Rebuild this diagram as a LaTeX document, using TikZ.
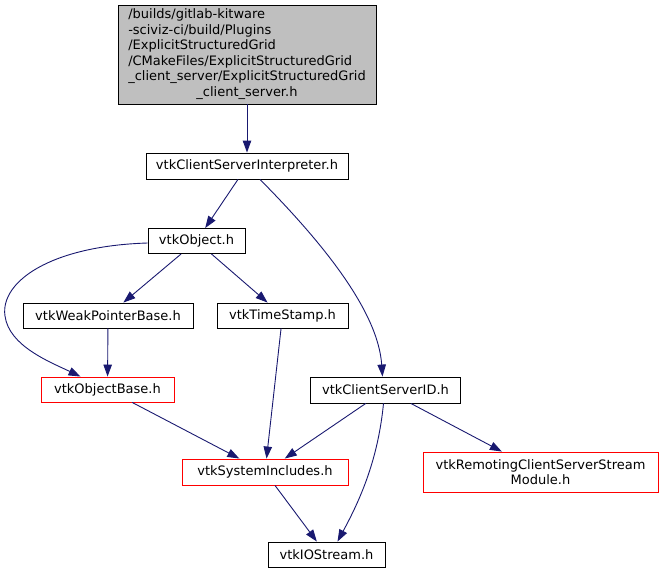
\documentclass[tikz,border=0pt]{standalone}
\usepackage{fontspec}
\setmainfont{DejaVu Sans}
\usetikzlibrary{arrows.meta}
\definecolor{edgeblue}{HTML}{191970}
\definecolor{graybox}{HTML}{BFBFBF}
\begin{document}
\begin{tikzpicture}[x=1pt,y=-1pt,
  box/.style={draw=black,line width=0.9pt,inner sep=0pt,align=center,font=\fontsize{13}{15.5}\selectfont},
  redbox/.style={box,draw=red},
  edge/.style={draw=edgeblue,line width=0.9pt,-{Triangle[length=12pt,width=8.5pt]}}]
\useasboundingbox (0,0) rectangle (662,573);
\node[box,fill=graybox,minimum width=258,minimum height=99] (top) at (247,54.5)
  {\begin{tabular}{@{}l@{}}/builds/gitlab-kitware\\-sciviz-ci/build/Plugins\\/ExplicitStructuredGrid\\/CMakeFiles/ExplicitStructuredGrid\\\_client\_server/ExplicitStructuredGrid\\\multicolumn{1}{@{}c@{}}{\_client\_server.h}\end{tabular}};
\node[box,minimum width=202,minimum height=26] (interp) at (247,166) {vtkClientServerInterpreter.h};
\node[box,minimum width=97,minimum height=25] (vo) at (196.5,241) {vtkObject.h};
\node[box,minimum width=170,minimum height=25] (wpb) at (108,315.5) {vtkWeakPointerBase.h};
\node[box,minimum width=131,minimum height=25] (ts) at (282.5,315.5) {vtkTimeStamp.h};
\node[redbox,minimum width=133,minimum height=25] (ob) at (107.5,389.5) {vtkObjectBase.h};
\node[box,minimum width=150,minimum height=26] (csid) at (385.5,390) {vtkClientServerID.h};
\node[redbox,minimum width=166,minimum height=26] (si) at (265,472) {vtkSystemIncludes.h};
\node[redbox,minimum width=235,minimum height=40] (rem) at (540.5,472) {vtkRemotingClientServerStream\\Module.h};
\node[box,minimum width=117,minimum height=25] (io) at (326.5,554.5) {vtkIOStream.h};

\draw[edge] (top) -- (interp);
\draw[edge] (interp) -- (vo);
\draw[edge] ([xshift=13]interp.south) .. controls (320,240) and (378,310) .. ([xshift=-3]csid.north);
\draw[edge] (vo) -- (wpb);
\draw[edge] (vo) -- (ts);
\draw[edge] ([yshift=-2]vo.west) .. controls (50,246) and (0,282) .. (5,316) .. controls (9,346) and (50,362) .. ([xshift=-27]ob.north);
\draw[edge] (wpb) -- (ob);
\draw[edge] (ts) -- (si);
\draw[edge] (ob) -- (si);
\draw[edge] (csid) -- (si);
\draw[edge] ([xshift=-2]csid.south) .. controls (378,460) and (360,500) .. ([xshift=11]io.north);
\draw[edge] (csid) -- (rem);
\draw[edge] (si) -- (io);
\end{tikzpicture}
\end{document}
